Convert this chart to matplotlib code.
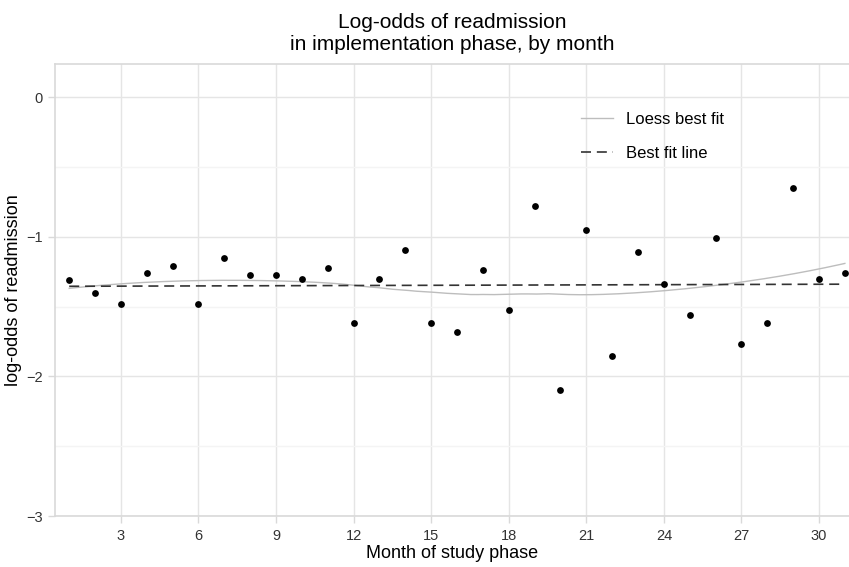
import numpy as np
import matplotlib.pyplot as plt

plt.rcParams['font.family'] = ['Liberation Sans', 'DejaVu Sans']

# monthly log-odds of readmission
months = np.arange(1, 32)
log_odds = [-1.31, -1.40, -1.48, -1.26, -1.21, -1.48, -1.15, -1.27, -1.27, -1.30,
            -1.22, -1.62, -1.30, -1.09, -1.62, -1.68, -1.24, -1.52, -0.78, -2.10,
            -0.95, -1.85, -1.11, -1.34, -1.56, -1.01, -1.77, -1.62, -0.65, -1.30,
            -1.26]
x_ticks = [3, 6, 9, 12, 15, 18, 21, 24, 27, 30]
y_ticks = [-3, -2, -1, 0]


def loess(x, y, xs, span=0.75):
    # local quadratic fit with tricube weights (like R's loess defaults)
    x = np.asarray(x, float)
    y = np.asarray(y, float)
    n = len(x)
    k = int(np.ceil(span * n))
    out = []
    for x0 in xs:
        d = np.abs(x - x0)
        h = np.sort(d)[k - 1]
        w = np.clip(1 - (d / h) ** 3, 0, None) ** 3
        X = np.vstack([np.ones(n), x - x0, (x - x0) ** 2]).T
        W = np.diag(w)
        beta = np.linalg.solve(X.T @ W @ X, X.T @ W @ y)
        out.append(beta[0])
    return np.array(out)


xs = np.linspace(1, 31, 200)
lo = loess(months, log_odds, xs)
coef = np.polyfit(months, log_odds, 1)
fit = np.polyval(coef, xs)

fig = plt.figure(figsize=(8.49, 5.67), dpi=100)
ax = fig.add_axes([55 / 849, 51 / 567, 794 / 849, 452 / 567])

ax.plot(xs, lo, color='#bdbdbd', lw=1.0, label='Loess best fit')
ax.plot(xs, fit, color='#333333', lw=1.2, linestyle=(0, (6, 3.5)), label='Best fit line')
ax.scatter(months, log_odds, s=24, color='black', zorder=3, linewidths=0)

ax.set_xlim(0.45, 31.16)
ax.set_ylim(-3, 0.24)
ax.set_xticks(x_ticks)
ax.set_yticks(y_ticks)
ax.set_yticks([-2.5, -1.5, -0.5], minor=True)
ax.grid(True, which='major', color='#e5e5e5', lw=1.0)
ax.grid(True, which='minor', axis='y', color='#f4f4f4', lw=1.0)
ax.tick_params(axis='y', which='minor', length=0)
ax.tick_params(which='major', length=5, width=1, color='#d9d9d9', labelsize=10.5,
               labelcolor='#333333', pad=4)
ax.set_axisbelow(True)

for side in ['left', 'top', 'bottom']:
    ax.spines[side].set_color('#d9d9d9')
    ax.spines[side].set_linewidth(1.2)
ax.spines['right'].set_visible(False)

ax.set_xlabel('Month of study phase', fontsize=13, labelpad=2)
ax.set_ylabel('log-odds of readmission', fontsize=13, labelpad=3)
ax.set_title('Log-odds of readmission\nin implementation phase, by month',
             fontsize=15, pad=10, linespacing=1.2)

ax.legend(loc='upper left', bbox_to_anchor=(573 / 849, 1 - 104 / 567),
          bbox_transform=fig.transFigure, frameon=False, fontsize=12,
          handlelength=1.9, handletextpad=0.8, labelspacing=1.1, borderpad=0)

fig.savefig('out.png', dpi=100)
